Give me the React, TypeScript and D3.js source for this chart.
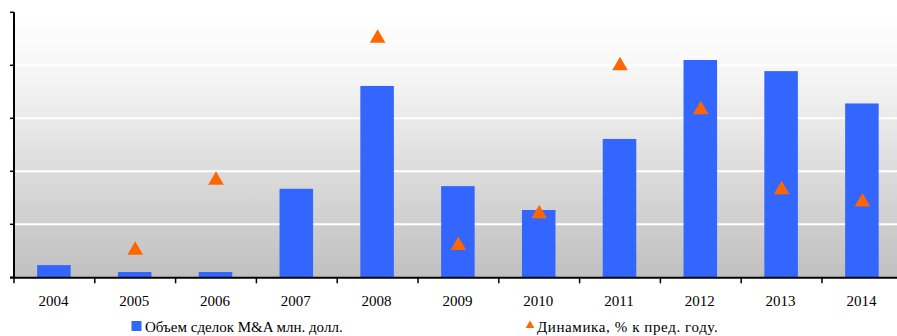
import React from "react";
import * as d3 from "d3";

const years = ["2004", "2005", "2006", "2007", "2008", "2009", "2010", "2011", "2012", "2013", "2014"];
const volume = [0.23, 0.1, 0.1, 1.67, 3.61, 1.72, 1.27, 2.61, 4.1, 3.89, 3.28];
const dynamics: (number | null)[] = [null, 0.53, 1.85, null, 4.53, 0.62, 1.22, 4.01, 3.18, 1.67, 1.44];
const yTicks = [0, 1, 2, 3, 4, 5];
const legendVolume = "Объем сделок M&A млн. долл.";
const legendDynamics = "Динамика, % к пред. году.";

const W = 897;
const H = 336;
const left = 14;
const top = 12.3;
const bottom = 277.3;
const bandW = 80.8;

export default function App() {
  const x = d3.scaleBand<string>().domain(years).range([left, left + bandW * years.length]).padding(0);
  const y = d3.scaleLinear().domain([0, 5]).range([bottom, top]);
  const bw = x.bandwidth();
  const barW = bw * 0.415;
  const tri = d3.symbol().type(d3.symbolTriangle).size(105)();
  const font = "'Liberation Serif', 'Times New Roman', serif";

  return (
    <svg width={W} height={H} style={{ position: "absolute", left: 0, top: 0 }} fontFamily={font}>
      <defs>
        <linearGradient id="bg" x1="0" y1="0" x2="0" y2="1">
          <stop offset="0" stopColor="#ffffff" />
          <stop offset="0.18" stopColor="#f9f9f9" />
          <stop offset="1" stopColor="#c0c0c0" />
        </linearGradient>
      </defs>
      <rect x={left} y={top} width={W - left} height={bottom - top} fill="url(#bg)" />
      {yTicks.slice(1, -1).map((t) => (
        <line key={t} x1={left} x2={W} y1={y(t)} y2={y(t)} stroke="#ffffff" strokeWidth={2} />
      ))}
      {years.map((yr, i) => (
        <rect
          key={yr}
          x={(x(yr) as number) + (bw - barW) / 2 - 0.5}
          y={y(volume[i])}
          width={barW}
          height={bottom - y(volume[i])}
          fill="#3366ff"
        />
      ))}
      {years.map((yr, i) =>
        dynamics[i] == null ? null : (
          <path
            key={yr}
            d={tri as string}
            transform={`translate(${(x(yr) as number) + bw / 2},${y(dynamics[i] as number) + 1})`}
            fill="#ff6600"
          />
        )
      )}
      {/* axes */}
      <line x1={left} x2={left} y1={top} y2={bottom} stroke="#000" strokeWidth={2} />
      {yTicks.map((t) => (
        <line key={t} x1={left - 4} x2={left} y1={y(t)} y2={y(t)} stroke="#000" strokeWidth={1.5} />
      ))}
      <line x1={left - 4} x2={W} y1={bottom + 0.5} y2={bottom + 0.5} stroke="#000" strokeWidth={2} />
      {years.map((yr) => (
        <line key={yr} x1={x(yr) as number} x2={x(yr) as number} y1={bottom} y2={bottom + 6} stroke="#000" strokeWidth={1.5} />
      ))}
      {years.map((yr) => (
        <text key={yr} x={(x(yr) as number) + bw / 2 - 1} y={306} textAnchor="middle" fontSize={15} fill="#000">
          {yr}
        </text>
      ))}
      {/* legend */}
      <rect x={131.5} y={321} width={10} height={10} fill="#3366ff" />
      <text x={145} y={332} fontSize={15} fill="#000">{legendVolume}</text>
      <path d={d3.symbol().type(d3.symbolTriangle).size(32)() as string} transform="translate(530,325.5)" fill="#ff6600" />
      <text x={537} y={332} fontSize={15} letterSpacing={0.6} fill="#000">{legendDynamics}</text>
    </svg>
  );
}
